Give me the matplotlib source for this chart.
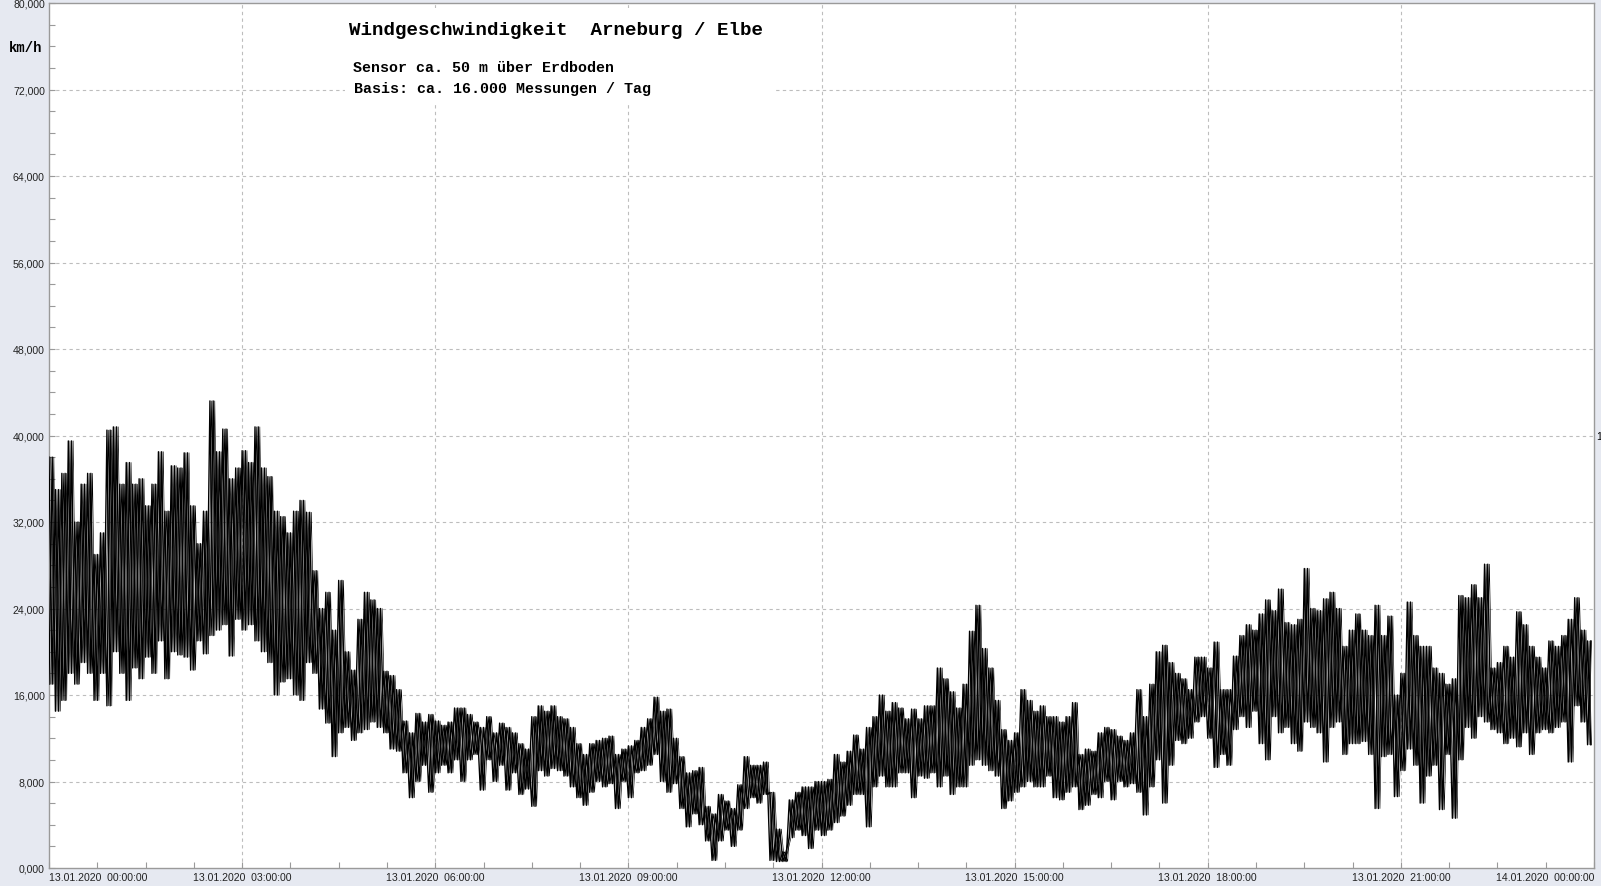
import matplotlib
matplotlib.use("Agg")
import matplotlib.pyplot as plt
import numpy as np
from matplotlib.patches import Rectangle

# anchor times (hours after 13.01.2020 00:00), one every 6 minutes
hours = np.round(np.arange(0, 24, 0.1), 1)

# upper and lower extremes of the trace around each anchor
high_kmh = [
    38, 35, 36.5, 39.5, 32, 35.5, 36.5, 29, 31, 40.5,
    40.8, 35.5, 37.5, 35.5, 36, 33.5, 35.5, 38.5, 33, 37.2,
    37, 38.4, 33.5, 30, 33, 43.2, 38.5, 40.6, 36, 37,
    38.6, 37.5, 40.8, 37, 36.2, 33, 32.5, 31, 33, 34,
    32.9, 27.5, 24, 25.5, 22, 26.6, 20, 18.3, 23, 25.5,
    24.8, 24, 18.2, 17.8, 16.5, 13.6, 12.5, 14.3, 13.5, 14.2,
    13.6, 13.2, 13.5, 14.8, 14.8, 14.2, 13.5, 13, 14, 12.5,
    13.4, 13, 12.5, 11.5, 11, 14, 15, 14.5, 15, 14,
    13.8, 13, 11.5, 10.5, 11.5, 11.8, 12, 12.2, 10.5, 11,
    11.3, 11.8, 13, 13.8, 15.8, 14.5, 14.7, 12, 10.3, 8.8,
    9, 9.3, 5.7, 5, 6.8, 6.2, 5.5, 7.7, 10.3, 9.5,
    9.5, 9.8, 7, 3.6, 1.5, 6.3, 7, 7.5, 7.5, 8,
    8, 8.2, 10.5, 9.8, 10.8, 12.3, 11, 13, 14, 16,
    14.5, 15.3, 14.8, 13.8, 14.7, 13.8, 15, 15, 18.5, 17.5,
    16.3, 14.8, 17, 21.9, 24.3, 20.3, 18.5, 15.5, 12.8, 11.8,
    12.5, 16.5, 15.5, 14.5, 15, 14, 14, 13.5, 14, 15.3,
    10.5, 11, 10.8, 12.5, 13, 12.8, 12.2, 11.8, 12.5, 16.5,
    14, 17, 20, 20.6, 19, 18, 17.5, 16.5, 19.5, 19.5,
    18.5, 20.9, 16.5, 16.5, 19.6, 21.5, 22.5, 22, 23.5, 24.8,
    23.8, 25.8, 22.7, 22.5, 23, 27.7, 24, 23.8, 24.9, 25.5,
    24, 20.5, 22, 23.5, 22, 21.5, 24.3, 21.5, 23.3, 16,
    18, 24.6, 21.5, 20.5, 20.5, 18.5, 18, 17, 17.5, 25.2,
    25, 26.2, 25, 28.1, 18.5, 19, 20.5, 19.5, 23.7, 22.5,
    20.5, 19.5, 18.5, 21, 20.5, 21.5, 23, 25, 22, 21,
]
low_kmh = [
    17, 14.5, 15.5, 18, 17, 19, 18, 15.5, 18, 15,
    20, 18, 15.5, 18.5, 17.5, 19.5, 18, 21, 17.5, 20,
    19.7, 19.5, 18.3, 21, 19.8, 21.5, 22, 22.5, 19.6, 23,
    22, 22.5, 21, 20, 19, 16, 17.2, 17.5, 16, 15.5,
    19, 18, 14.7, 13.4, 10.3, 12.5, 13, 11.8, 12.5, 12.8,
    13.5, 13, 12.5, 11, 10.8, 8.8, 6.5, 8, 9.5, 7,
    8.8, 9.5, 8.8, 10, 8, 10, 10.5, 7.2, 10, 8,
    9.5, 7.2, 8.8, 6.8, 7.3, 5.7, 9, 8.5, 9.2, 9,
    8.5, 7.5, 6.5, 5.8, 7, 8, 7.5, 7.8, 5.5, 8,
    6.5, 8.8, 9, 9.5, 10.5, 8, 7, 7.8, 5.5, 3.8,
    5, 4, 2.5, 0.7, 2.5, 3.5, 2, 3.5, 5.5, 6.5,
    6, 6.8, 0.7, 0.6, 0.6, 2.8, 3.5, 3, 1.8, 3.5,
    3, 3.5, 4.2, 4.8, 5.8, 6.8, 6.8, 3.8, 7.5, 8.5,
    7.5, 7.5, 8.8, 8.8, 6.5, 8.5, 8.3, 8.8, 7.5, 8.5,
    6.8, 7.5, 7.5, 9.5, 10, 9.5, 9, 8.5, 5.5, 6.2,
    7, 7.5, 8, 7.5, 7.5, 8.5, 6.5, 6.3, 7, 7.5,
    5.4, 5.8, 6.8, 6.5, 8, 6.3, 8, 7.5, 7.8, 7,
    4.9, 7.5, 10, 6, 9.5, 11.8, 11.5, 12, 13.5, 14,
    12, 9.3, 10.5, 9.5, 12.8, 14, 13, 14.5, 11.5, 10,
    14, 12.5, 13, 11.5, 10.8, 13.5, 13, 12.5, 9.8, 13,
    13.5, 10.5, 11.5, 11.5, 11.7, 10.5, 5.5, 10.3, 10.5, 6.6,
    9, 11, 9.5, 6, 8.5, 9.5, 5.4, 10.5, 4.6, 10,
    13, 12, 14, 13.5, 12.8, 12.5, 11.5, 12, 11.2, 12.5,
    10.5, 12.5, 12.8, 12.5, 13, 13.5, 9.8, 15, 13.5, 11.4,
]

label_hours = [0, 3, 6, 9, 12, 15, 18, 21, 24]
label_texts = [
    "13.01.2020  00:00:00", "13.01.2020  03:00:00", "13.01.2020  06:00:00",
    "13.01.2020  09:00:00", "13.01.2020  12:00:00", "13.01.2020  15:00:00",
    "13.01.2020  18:00:00", "13.01.2020  21:00:00", "14.01.2020  00:00:00",
]
y_labels = list(range(0, 81, 8))

title = "Windgeschwindigkeit  Arneburg / Elbe"
line1 = "Sensor ca. 50 m über Erdboden"
line2 = "Basis: ca. 16.000 Messungen / Tag"

W, H = 1601, 887
BG = "#e6e9f1"
GRID = "#bdbdbd"
EDGE = "#9a9a9a"


def fx(px):
    return px / W


def fy(py):
    return 1 - py / H


fig = plt.figure(figsize=(W / 100, H / 100), dpi=100, facecolor=BG)
ax = fig.add_axes([fx(49), fy(869), fx(1594) - fx(49), fy(4) - fy(869)])
ax.set_facecolor("white")
ax.set_xlim(0, 24)
ax.set_ylim(0, 80)

# dense trace: zig-zags between the lower and upper extremes of each anchor,
# in and out of phase, plus copies a quarter step further on
up = np.empty(2 * len(hours))
up[0::2] = low_kmh
up[1::2] = high_kmh
down = np.empty(2 * len(hours))
down[0::2] = high_kmh
down[1::2] = low_kmh
for shift, lw in ((0.0, 1.0), (0.025, 0.45)):
    t = np.empty(2 * len(hours))
    t[0::2] = hours + shift
    t[1::2] = hours + shift + 0.05
    t = np.minimum(t, 23.96)
    ax.plot(t, up, color="black", lw=lw, zorder=3)
    ax.plot(t, down, color="black", lw=lw, zorder=3)

for h in label_hours[1:-1]:
    ax.axvline(h, color=GRID, lw=0.8, ls=(0, (3, 3)), zorder=1)
for y in y_labels[1:-1]:
    ax.axhline(y, color=GRID, lw=0.8, ls=(0, (3, 3)), zorder=1)

# white box behind the heading
ax.add_patch(Rectangle((fx(345), fy(106)), fx(773) - fx(345), fy(9) - fy(106),
                       transform=fig.transFigure, facecolor="white",
                       edgecolor="none", zorder=2))

ax.set_xticks(label_hours)
ax.set_xticks(np.arange(0, 24.01, 0.75), minor=True)
ax.set_xticklabels(label_texts, fontsize=7.6, family="Liberation Sans", color="#222222")
xl = ax.get_xticklabels()
xl[0].set_ha("left")
xl[-1].set_ha("right")

ax.set_yticks(y_labels)
ax.set_yticks(np.arange(0, 81, 2), minor=True)
ax.set_yticklabels([f"{y:.3f}".replace(".", ",") for y in y_labels],
                   fontsize=7.6, family="Liberation Sans", color="#222222")

ax.tick_params(which="both", direction="in", length=4, color=EDGE, width=0.8)
ax.tick_params(axis="x", pad=3)
ax.tick_params(axis="y", pad=3)
for s in ax.spines.values():
    s.set_color(EDGE)
    s.set_linewidth(1.0)

fig.text(fx(9), fy(48), "km/h", family="Liberation Mono", weight="bold",
         fontsize=10, va="center", ha="left")
fig.text(fx(349), fy(30.5), title, family="Liberation Mono", weight="bold",
         fontsize=13.8, va="center", ha="left")
fig.text(fx(353), fy(67.5), line1, family="Liberation Mono", weight="bold",
         fontsize=10.8, va="center", ha="left")
fig.text(fx(354), fy(89.5), line2, family="Liberation Mono", weight="bold",
         fontsize=10.8, va="center", ha="left")
fig.text(fx(1596), fy(437), "1", family="Liberation Sans", fontsize=7.5,
         va="center", ha="left")

fig.savefig("out.png", dpi=100, facecolor=BG)
